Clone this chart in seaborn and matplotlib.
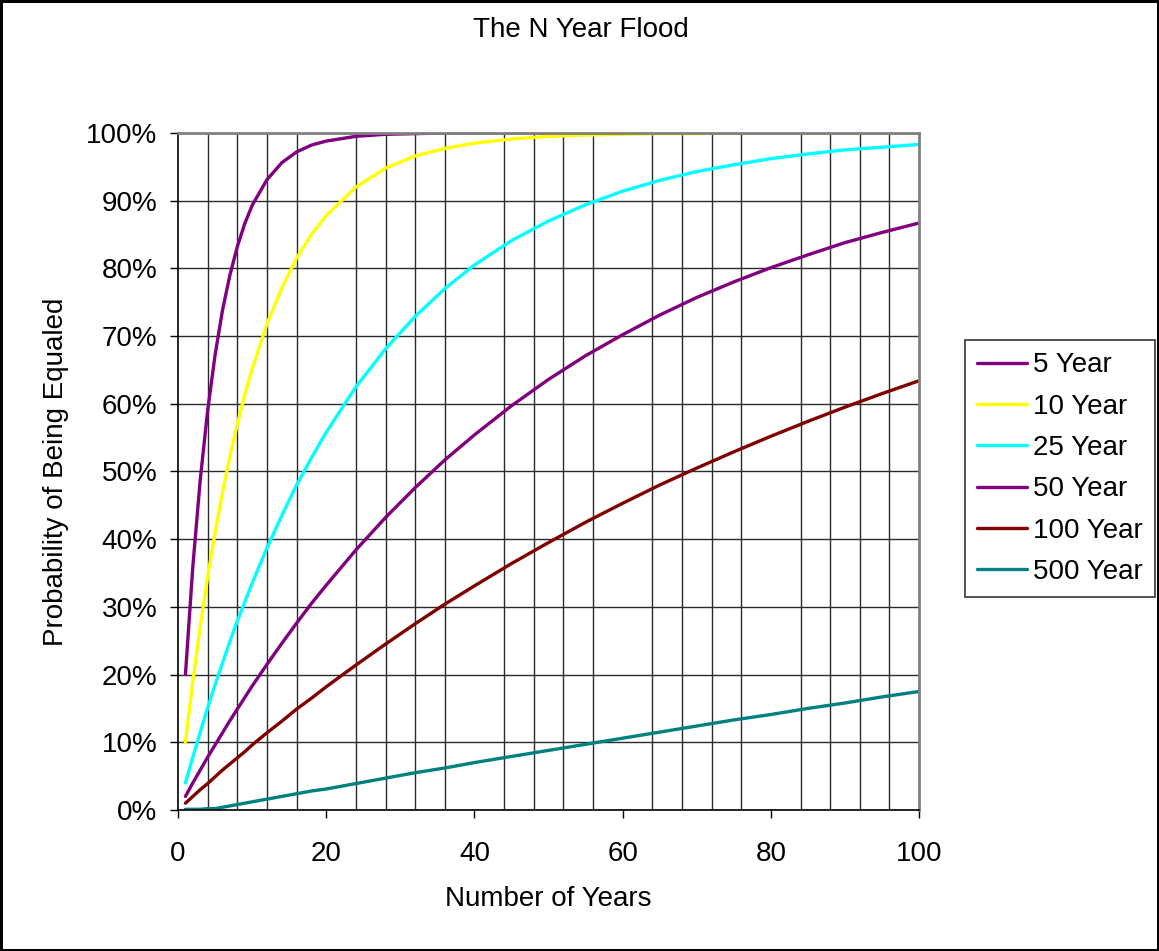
import pandas as pd
import seaborn as sns
import matplotlib.pyplot as plt
import matplotlib.ticker as ticker
import numpy as np

# Años transcurridos (eje x)
anios = [1, 2, 3, 4, 5, 6, 7, 8, 9, 10, 12, 14, 16, 18, 20, 24, 28, 32, 36, 40,
         45, 50, 55, 60, 65, 70, 75, 80, 85, 90, 95, 100]

# Probabilidad de igualar cada crecida
p_5 = [0.200, 0.360, 0.488, 0.590, 0.672, 0.738, 0.790, 0.832, 0.866, 0.893, 0.931, 0.956,
       0.972, 0.982, 0.988, 0.995, 0.998, 0.999, 1.000, 1.000, 1.000, 1.000, 1.000, 1.000,
       1.000, 1.000, 1.000, 1.000, 1.000, 1.000, 1.000, 1.000]
p_10 = [0.100, 0.190, 0.271, 0.344, 0.410, 0.469, 0.522, 0.570, 0.613, 0.651, 0.718, 0.771,
        0.815, 0.850, 0.878, 0.920, 0.948, 0.966, 0.977, 0.985, 0.991, 0.995, 0.997, 0.998,
        0.999, 0.999, 1.000, 1.000, 1.000, 1.000, 1.000, 1.000]
p_25 = [0.040, 0.078, 0.115, 0.151, 0.185, 0.217, 0.249, 0.279, 0.307, 0.335, 0.387, 0.435,
        0.480, 0.520, 0.558, 0.625, 0.681, 0.729, 0.770, 0.805, 0.841, 0.870, 0.894, 0.914,
        0.930, 0.943, 0.953, 0.962, 0.969, 0.975, 0.979, 0.983]
p_50 = [0.020, 0.040, 0.059, 0.078, 0.096, 0.114, 0.132, 0.149, 0.166, 0.183, 0.215, 0.246,
        0.276, 0.305, 0.332, 0.384, 0.432, 0.476, 0.517, 0.554, 0.597, 0.636, 0.671, 0.702,
        0.731, 0.757, 0.780, 0.801, 0.820, 0.838, 0.853, 0.867]
p_100 = [0.010, 0.020, 0.030, 0.039, 0.049, 0.059, 0.068, 0.077, 0.086, 0.096, 0.114, 0.131,
         0.149, 0.165, 0.182, 0.214, 0.245, 0.275, 0.304, 0.331, 0.364, 0.395, 0.425, 0.453,
         0.480, 0.505, 0.529, 0.552, 0.574, 0.595, 0.615, 0.634]
p_500 = [0.001, 0.001, 0.001, 0.002, 0.002, 0.004, 0.006, 0.008, 0.010, 0.012, 0.016, 0.020,
         0.024, 0.028, 0.031, 0.039, 0.047, 0.055, 0.062, 0.070, 0.079, 0.088, 0.097, 0.106,
         0.115, 0.124, 0.133, 0.141, 0.150, 0.158, 0.167, 0.175]

series = ['5 Year', '10 Year', '25 Year', '50 Year', '100 Year', '500 Year']
colores = ['#800080', '#FFFF00', '#00FFFF', '#800080', '#800000', '#008080']

# Tabla larga para seaborn
df = pd.concat([pd.DataFrame({'Años': anios, 'Prob': v, 'Serie': s})
                for s, v in zip(series, [p_5, p_10, p_25, p_50, p_100, p_500])],
               ignore_index=True)

sns.set_style('white')
plt.rcParams['font.family'] = ['Liberation Sans', 'DejaVu Sans']
plt.rcParams['text.color'] = 'black'
plt.rcParams['axes.labelcolor'] = 'black'
plt.rcParams['xtick.color'] = 'black'
plt.rcParams['ytick.color'] = 'black'

fig = plt.figure(figsize=(11.59, 9.51), dpi=100)
ax = fig.add_axes([0.1536, 0.1483, 0.6394, 0.7119])

sns.lineplot(data=df, x='Años', y='Prob', hue='Serie', palette=colores,
             hue_order=series, linewidth=2.4, ax=ax, legend=False)

ax.set_xlim(0, 100)
ax.set_ylim(0, 1)
ax.set_xticks(range(0, 101, 20))
ax.set_xticks(np.arange(0, 101, 4), minor=True)
ax.set_yticks(np.arange(0, 1.01, 0.1))
ax.yaxis.set_major_formatter(ticker.PercentFormatter(1.0, decimals=0))

# Cuadrícula estilo Excel
ax.grid(False)
ax.grid(which='minor', axis='x', color='#2a2a2a', linewidth=1.0)
ax.grid(which='major', axis='y', color='#2a2a2a', linewidth=1.0)
ax.set_axisbelow(True)
ax.tick_params(which='major', direction='out', length=6, width=1, color='black',
               labelsize=20, left=True, bottom=True)
ax.tick_params(axis='x', pad=16)
ax.tick_params(axis='y', pad=9)
ax.tick_params(which='minor', length=0)

for lado in ['left', 'bottom']:
    ax.spines[lado].set_color('black')
    ax.spines[lado].set_linewidth(1.2)
for lado in ['top', 'right']:
    ax.spines[lado].set_color('#808080')
    ax.spines[lado].set_linewidth(2)

ax.set_xlabel('Number of Years', fontsize=20, labelpad=14)
ax.set_ylabel('Probability of Being Equaled', fontsize=20, labelpad=12)
fig.text(0.501, 0.9685, 'The N Year Flood', ha='center', va='center', fontsize=20)

# Leyenda
handles = [plt.Line2D([], [], color=c, linewidth=2.4) for c in colores]
leg = fig.legend(handles, series, loc='upper left', bbox_to_anchor=(0.8326, 0.6425),
                 bbox_transform=fig.transFigure, fontsize=20, frameon=True,
                 fancybox=False, edgecolor='black', handlelength=1.8,
                 handletextpad=0.2, labelspacing=0.55, borderpad=0.45, borderaxespad=0)
leg.get_frame().set_linewidth(1.2)

# Borde del área del gráfico
fig.patch.set_edgecolor('black')
fig.patch.set_linewidth(2.5)

fig.savefig('out.png', dpi=100, edgecolor=fig.get_edgecolor())
